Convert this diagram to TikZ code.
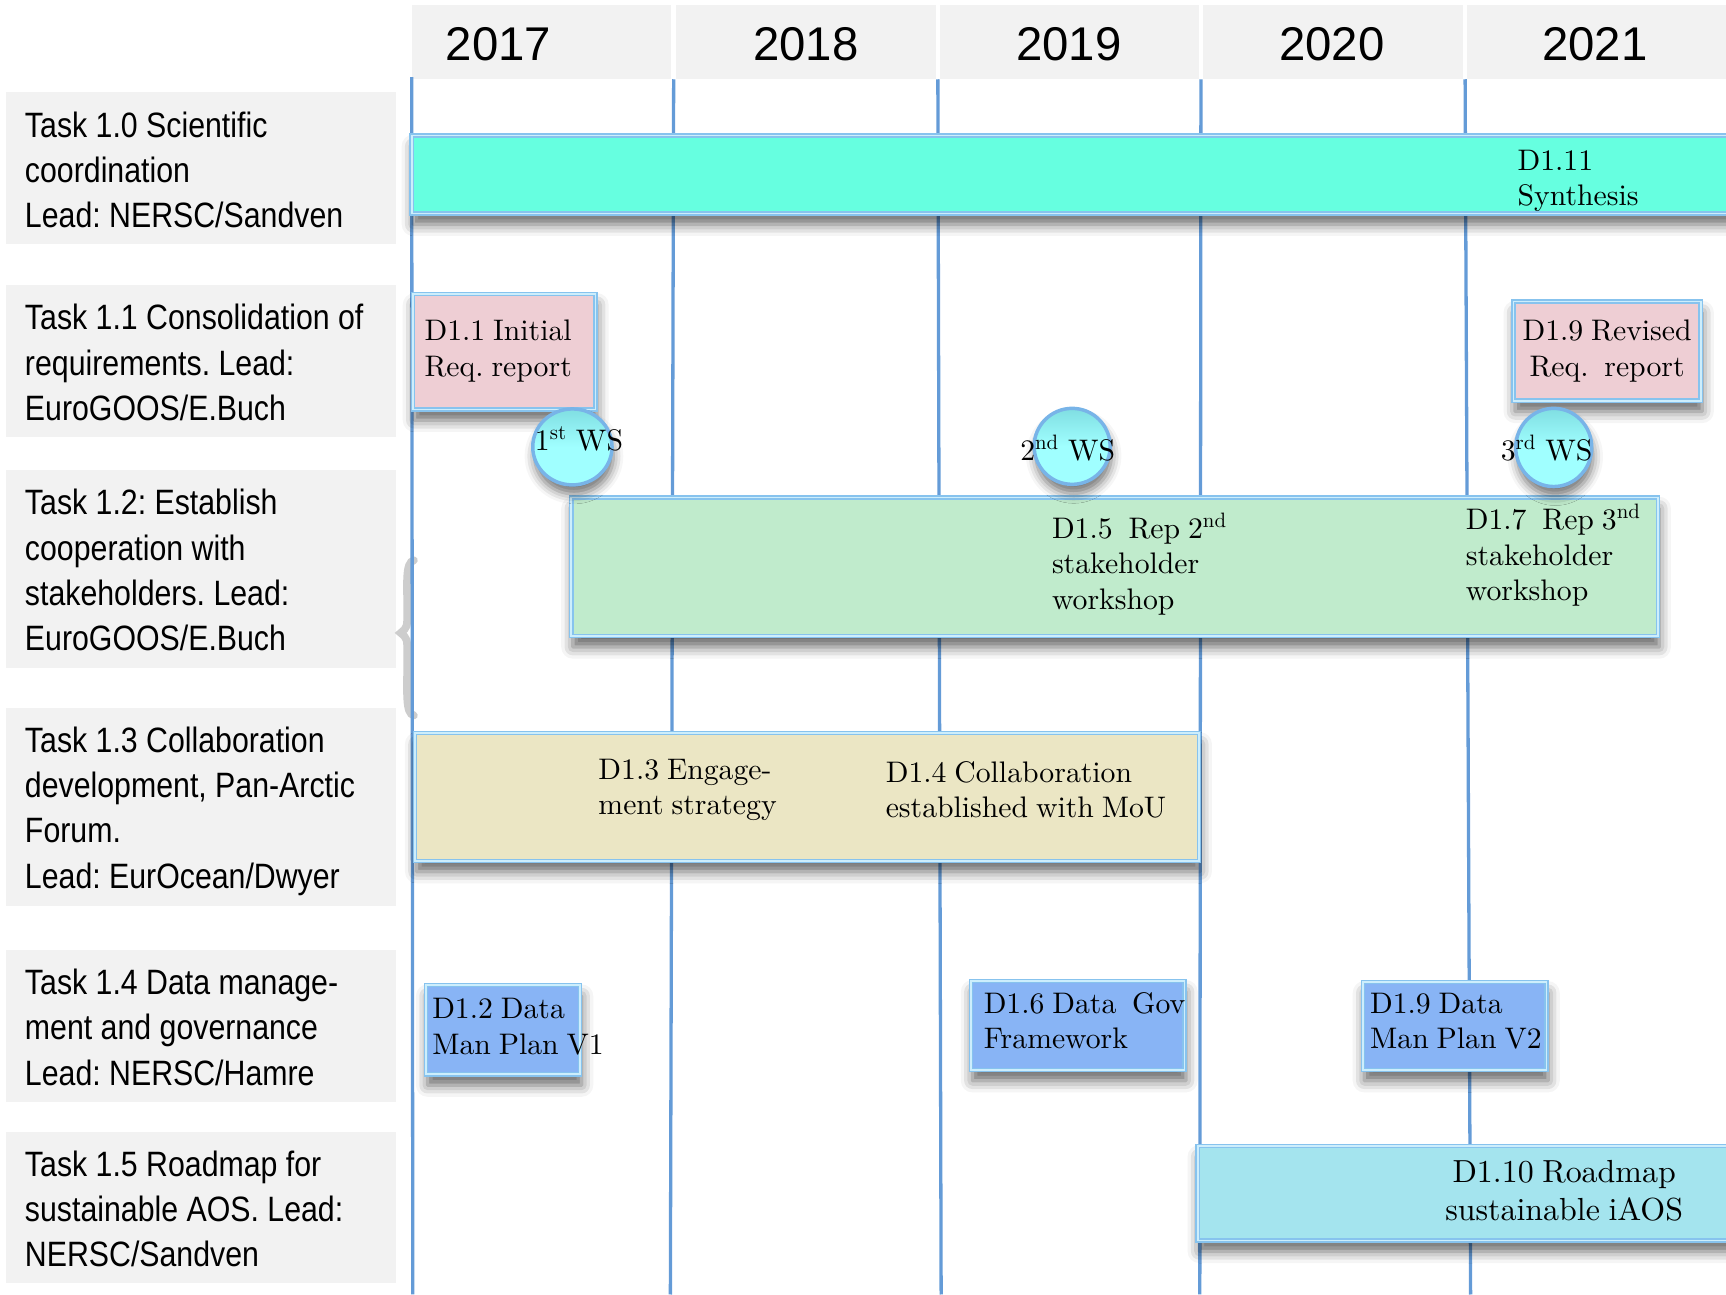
\documentclass[tikz,border=0pt]{standalone}
\usepackage{fontspec}
\newfontfamily\yearfont{Liberation Sans}
\newfontfamily\taskfont[FakeStretch=0.86]{Liberation Sans}
\newfontfamily\delfont[WordSpace=0.8]{lmroman10-regular.otf}
\usetikzlibrary{fit,shapes.geometric,shadows.blur}
\definecolor{hdrgray}{RGB}{242,242,242}
\definecolor{linecol}{RGB}{100,155,215}
\definecolor{edgeblue}{RGB}{135,195,238}
\definecolor{edgelight}{RGB}{205,238,252}
\definecolor{tealbar}{RGB}{102,255,224}
\definecolor{pinkbox}{RGB}{238,206,212}
\definecolor{greenbar}{RGB}{192,235,204}
\definecolor{yellowbar}{RGB}{235,230,196}
\definecolor{bluebox}{RGB}{136,180,245}
\definecolor{cyanbar}{RGB}{164,228,238}
\definecolor{wscyan}{RGB}{160,255,255}
\definecolor{wstop}{RGB}{128,222,226}
\definecolor{wsedge}{RGB}{120,180,232}
\definecolor{bracegray}{RGB}{205,205,205}
\newcommand{\tasksize}{\taskfont\fontsize{9.1pt}{11.67pt}\selectfont}
\newcommand{\delsize}{\delfont\fontsize{7.68pt}{9.1pt}\selectfont}
\newcommand{\delbig}{\delfont\fontsize{8.25pt}{9.67pt}\selectfont}
\tikzset{
  yr/.style={anchor=base, inner sep=0, font=\yearfont\fontsize{12.23pt}{14pt}\selectfont},
  taskbox/.style={fill=hdrgray, inner sep=0},
  tasktext/.style={anchor=north west, inner sep=0, align=left, font=\tasksize},
  vline/.style={draw=linecol, line width=0.85pt},
  gbar/.style={inner sep=0, draw=edgeblue, double=edgelight, line width=0.35pt, double distance=0.45pt,
    blur shadow={shadow xshift=0.4pt, shadow yshift=-2.8pt, shadow blur radius=3pt, shadow opacity=60}},
  deltext/.style={anchor=north west, inner sep=0, align=left, font=\delsize},
  delcenter/.style={anchor=north, inner sep=0, align=center, font=\delsize},
  ws/.style={ellipse, inner sep=0, top color=wstop, bottom color=wscyan, middle color=wscyan,
    draw=wsedge, line width=0.9pt,
    blur shadow={shadow xshift=0.4pt, shadow yshift=-2.4pt, shadow blur radius=2.5pt, shadow opacity=55}},
  wstext/.style={anchor=base, inner sep=0, font=\delsize}
}
\frenchspacing
\begin{document}
\begin{tikzpicture}[x=0.01cm,y=-0.01cm]
\useasboundingbox (0,0) rectangle (1568,1176);
% header
\node[taskbox, fit={(374,5) (610,72)}] (h1) {};
\node[taskbox, fit={(614,5) (850,72)}] (h2) {};
\node[taskbox, fit={(854,5) (1089,72)}] (h3) {};
\node[taskbox, fit={(1093,5) (1329,72)}] (h4) {};
\node[taskbox, fit={(1333,5) (1568,72)}] (h5) {};
\node[yr] (y2017) at (453,55) {2017};
\node[yr] (y2018) at (732,55) {2018};
\node[yr] (y2019) at (971,55) {2019};
\node[yr] (y2020) at (1210,55) {2020};
\node[yr] (y2021) at (1449,55) {2021};
% task boxes
\node[taskbox, fit={(5,84) (360,222)}] (t10box) {};
\node[taskbox, fit={(5,259) (360,397)}] (t11box) {};
\node[taskbox, fit={(5,427) (360,607)}] (t12box) {};
\node[taskbox, fit={(5,643) (360,823)}] (t13box) {};
\node[taskbox, fit={(5,863) (360,1001)}] (t14box) {};
\node[taskbox, fit={(5,1028) (360,1166)}] (t15box) {};
\node[tasktext] (t10) at (22,95.3) {\strut Task 1.0 Scientific\\coordination\\Lead: NERSC/Sandven};
\node[tasktext] (t11) at (22,270.3) {\strut Task 1.1 Consolidation of\\requirements. Lead:\\EuroGOOS/E.Buch};
\node[tasktext] (t12) at (22,438.3) {\strut Task 1.2: Establish\\cooperation with\\stakeholders. Lead:\\EuroGOOS/E.Buch};
\node[tasktext] (t13) at (22,654.3) {\strut Task 1.3 Collaboration\\development, Pan-Arctic\\Forum.\\Lead: EurOcean/Dwyer};
\node[tasktext] (t14) at (22,874.3) {\strut Task 1.4 Data manage-\\ment and governance\\Lead: NERSC/Hamre};
\node[tasktext] (t15) at (22,1039.3) {\strut Task 1.5 Roadmap for\\sustainable AOS. Lead:\\NERSC/Sandven};
% faint brace (behind the line)
\draw[bracegray, line width=2pt, line cap=round]
  (376,509) .. controls (368,511) and (370,530) .. (370,555)
  .. controls (370,570) .. (364,575)
  .. controls (370,580) .. (370,595)
  .. controls (370,630) and (368,648) .. (376,650);
% vertical lines
\coordinate (v0t) at (374,70);  \coordinate (v0b) at (375,1176);
\coordinate (v1t) at (612,72);  \coordinate (v1b) at (609,1176);
\coordinate (v2t) at (852,72);  \coordinate (v2b) at (855,1176);
\coordinate (v3t) at (1091,72); \coordinate (v3b) at (1090,1176);
\coordinate (v4t) at (1331,72); \coordinate (v4b) at (1336,1176);
\draw[vline] (v0t) -- (v0b);
\draw[vline] (v1t) -- (v1b);
\draw[vline] (v2t) -- (v2b);
\draw[vline] (v3t) -- (v3b);
\draw[vline] (v4t) -- (v4b);
% bars
\node[gbar, fill=tealbar, fit={(374,123) (1575,194)}] (b111) {};
\node[gbar, fill=pinkbox, fit={(375,267) (541,372)}] (b11) {};
\node[gbar, fill=pinkbox, fit={(1375,274) (1545,364)}] (b19r) {};
\node[gbar, fill=greenbar, fit={(519,452) (1506,578)}] (b12) {};
\node[gbar, fill=yellowbar, fit={(377,666) (1089,782)}] (b13) {};
\node[gbar, fill=bluebox, fit={(387,895) (527,976)}] (b12d) {};
\node[gbar, fill=bluebox, fit={(882,891) (1076,972)}] (b16) {};
\node[gbar, fill=bluebox, fit={(1238,892) (1405,972)}] (b19d) {};
\node[gbar, fill=cyanbar, fit={(1088,1041) (1575,1127)}] (b110) {};
% workshops
\node[ws, minimum width=0.72cm, minimum height=0.69cm] (ws1) at (520,406) {};
\node[ws, minimum width=0.69cm, minimum height=0.69cm] (ws2) at (974,405.5) {};
\node[ws, minimum width=0.69cm, minimum height=0.71cm] (ws3) at (1411.5,406.5) {};
\node[wstext] (ws1t) at (526,409) {1\textsuperscript{st} WS};
\node[wstext] (ws2t) at (970,418) {2\textsuperscript{nd} WS};
\node[wstext] (ws3t) at (1405,418) {3\textsuperscript{rd} WS};
% deliverable texts
\node[deltext] (d111) at (1378,131.6) {\strut D1.11\\Synthesis};
\node[deltext] (d11) at (385,286.6) {\strut D1.1 Initial\\Req. report};
\node[delcenter] (d19r) at (1460,286.6) {\strut D1.9 Revised\\Req.\ \ report};
\node[deltext] (d15) at (955,465.6) {\strut D1.5\ \ Rep 2\textsuperscript{nd}\\stakeholder\\workshop};
\node[deltext] (d17) at (1331,457.6) {\strut D1.7\ \ Rep 3\textsuperscript{nd}\\stakeholder\\workshop};
\node[deltext] (d13) at (543,684.6) {\strut D1.3 Engage-\\ment strategy};
\node[deltext] (d14) at (804,687.6) {\strut D1.4 Collaboration\\established with MoU};
\node[deltext] (d12) at (392,902.6) {\strut D1.2 Data\\Man Plan V1};
\node[deltext] (d16) at (893,897.6) {\strut D1.6 Data\ \ Gov\\Framework};
\node[deltext] (d19d) at (1244,897.6) {\strut D1.9 Data\\Man Plan V2};
\node[anchor=north, inner sep=0, align=center, font=\delbig] (d110) at (1421,1050.2) {\strut D1.10 Roadmap\\sustainable iAOS};
\end{tikzpicture}
\end{document}
